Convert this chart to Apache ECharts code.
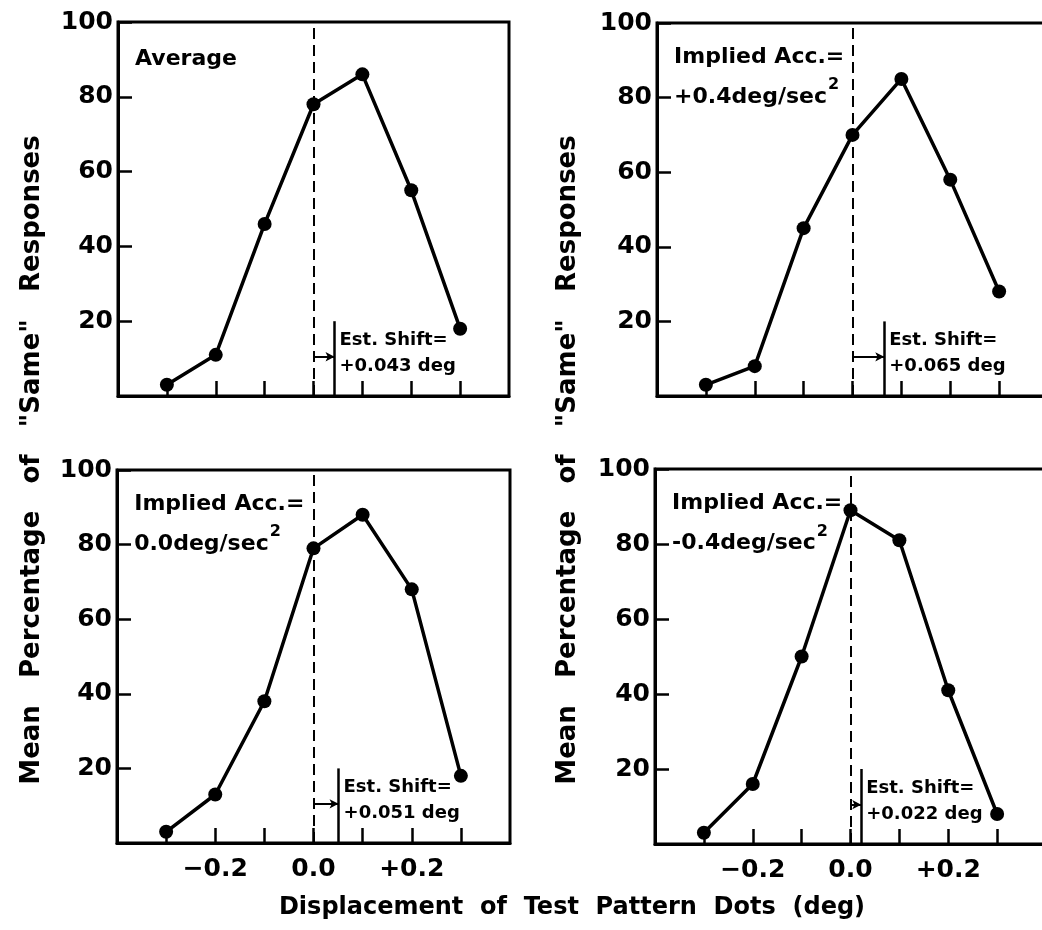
<!DOCTYPE html>
<html>
<head>
<meta charset="utf-8">
<script src="https://cdn.jsdelivr.net/npm/echarts@6.0.0/dist/echarts.min.js"></script>
<style>
html,body{margin:0;padding:0;background:#fff;}
#chart{width:1042px;height:930px;}
</style>
</head>
<body>
<div id="chart"></div>
<script>
// ---- data ----
const displacement = [-0.3, -0.2, -0.1, 0.0, 0.1, 0.2, 0.3];
const averageVals   = [3, 11, 46, 78, 86, 55, 18];
const accPlus04Vals = [3, 8, 45, 70, 85, 58, 28];
const acc00Vals     = [3, 13, 38, 79, 88, 68, 18];
const accMinus04Vals= [3, 16, 50, 89, 81, 41, 8];
const estShifts = [0.043, 0.065, 0.051, 0.022];
const panelLabels = [
  ['Average'],
  ['Implied Acc.=', '+0.4deg/sec', '2'],
  ['Implied Acc.=', '0.0deg/sec', '2'],
  ['Implied Acc.=', '-0.4deg/sec', '2']
];
const xTickValues = [-0.3, -0.2, -0.1, 0.0, 0.1, 0.2, 0.3];
const xLabelValues = [-0.2, 0.0, 0.2];
const yTickValues = [20, 40, 60, 80, 100];
const xAxisTitle = 'Displacement  of  Test  Pattern  Dots  (deg)';
const yAxisTitle = 'Mean   Percentage   of   "Same"   Responses';

const seriesVals = [averageVals, accPlus04Vals, acc00Vals, accMinus04Vals];

// ---- layout ----
const FONT = 'DejaVu Sans';
const grids = [
  {left:118, top:22, width:391, height:374},
  {left:657, top:23, width:391, height:373},
  {left:117, top:470, width:393, height:373},
  {left:655, top:469, width:391, height:375}
];

function fmtX(v){
  if (Math.abs(v) < 1e-9) return '0.0';
  return (v > 0 ? '+' : '\u2212') + Math.abs(v).toFixed(1);
}

const option = {
  animation:false,
  backgroundColor:'#fff',
  grid: grids.map(g => Object.assign({show:true, borderColor:'#000', borderWidth:3,
    backgroundColor:'transparent', containLabel:false, outerBoundsMode:'none'}, g)),
  xAxis: grids.map((g,i) => ({
    type:'value', gridIndex:i, min:-0.4, max:0.4,
    splitLine:{show:false},
    axisLine:{show:true, onZero:false, lineStyle:{color:'#000', width:3}},
    axisTick:{show:true, inside:true, length:15, customValues:xTickValues, lineStyle:{color:'#000', width:2.5}},
    axisLabel:{show: i>=2, customValues:xLabelValues, formatter:fmtX, margin:14,
      fontFamily:FONT, fontWeight:'bold', fontSize:25, color:'#000'}
  })),
  yAxis: grids.map((g,i) => ({
    type:'value', gridIndex:i, min:0, max:100,
    splitLine:{show:false},
    axisLine:{show:true, onZero:false, lineStyle:{color:'#000', width:3}},
    axisTick:{show:true, inside:true, length:14, customValues:yTickValues, lineStyle:{color:'#000', width:2.5}},
    axisLabel:{show:true, customValues:yTickValues, margin:5,
      fontFamily:FONT, fontWeight:'bold', fontSize:25, color:'#000'}
  })),
  series: seriesVals.map((vals,i) => {
    const lab = panelLabels[i];
    const shift = estShifts[i];
    const single = lab.length === 1;
    const labelText = single
      ? '{b|' + lab[0] + '}'
      : '{b|' + lab[0] + '}\n{b|' + lab[1] + '}{sup|' + lab[2] + '}';
    return {
      type:'line', xAxisIndex:i, yAxisIndex:i,
      data: displacement.map((x,k) => [x, vals[k]]),
      symbol:'circle', symbolSize:14,
      lineStyle:{color:'#000', width:3.5},
      itemStyle:{color:'#000'},
      z:5,
      markLine:{
        silent:true, animation:false, z:3,
        label:{show:false},
        data:[
          [{coord:[0,0], symbol:'none', lineStyle:{type:[11,6], width:2, color:'#000'}},
           {coord:[0,100], symbol:'none'}],
          [{coord:[shift,0], symbol:'none', lineStyle:{type:'solid', width:2.5, color:'#000'}},
           {coord:[shift,20], symbol:'none'}],
          [{coord:[0,10.5], symbol:'none', lineStyle:{type:'solid', width:2, color:'#000'}},
           {coord:[shift,10.5], symbol:'arrow', symbolSize:[7,9]}]
        ]
      },
      markPoint:{
        silent:true, animation:false,
        symbol:'circle', symbolSize:0,
        data:[
          {coord:[-0.365, single ? 90 : 85.5], label:{show:true, position:'right', distance:0,
            formatter:labelText, lineHeight:40,
            rich:{
              b:{fontFamily:FONT, fontWeight:'bold', fontSize:22, color:'#000', lineHeight:40},
              sup:{fontFamily:FONT, fontWeight:'bold', fontSize:16, color:'#000', verticalAlign:'top', lineHeight:40, padding:[0,0,10,1]}
            }}},
          {coord:[shift, 11.5], label:{show:true, position:'right', distance:5,
            formatter:'Est. Shift=\n+' + shift.toFixed(3) + ' deg',
            fontFamily:FONT, fontWeight:'bold', fontSize:18, color:'#000', lineHeight:26}}
        ]
      }
    };
  }),
  graphic:[
    {type:'text', x:572, y:908, style:{text:xAxisTitle, align:'center', verticalAlign:'middle',
      font:'bold 24px "DejaVu Sans"', fill:'#000'}},
    {type:'text', x:32, y:460, rotation:Math.PI/2, style:{text:yAxisTitle, align:'center', verticalAlign:'middle',
      font:'bold 26px "DejaVu Sans"', fill:'#000'}},
    {type:'text', x:568, y:460, rotation:Math.PI/2, style:{text:yAxisTitle, align:'center', verticalAlign:'middle',
      font:'bold 26px "DejaVu Sans"', fill:'#000'}}
  ]
};

const chart = echarts.init(document.getElementById('chart'), null, {renderer:'canvas'});
chart.setOption(option);
</script>
</body>
</html>
